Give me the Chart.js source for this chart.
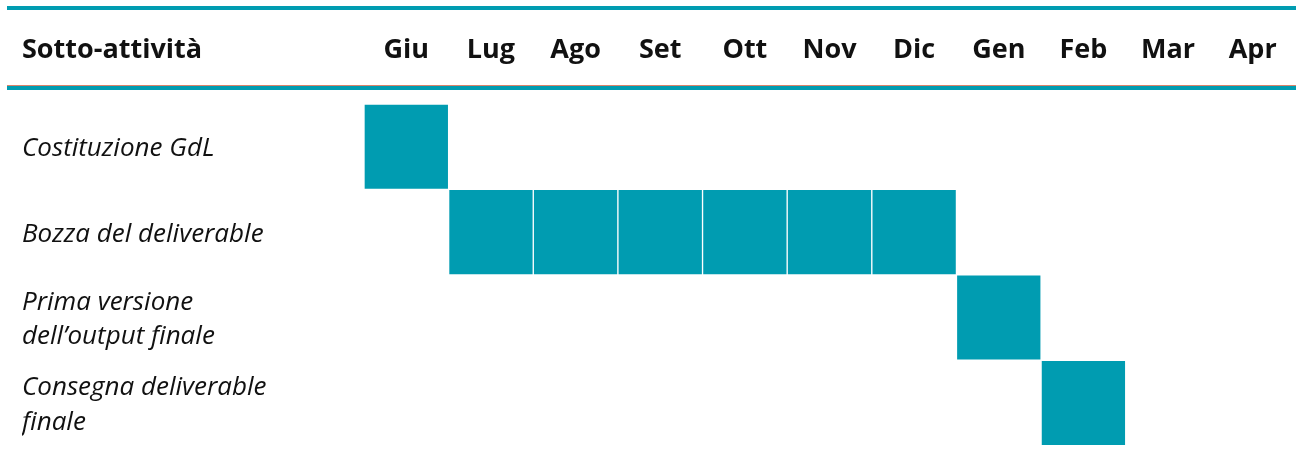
<!DOCTYPE html>
<html>
<head>
<meta charset="utf-8">
<script src="https://cdn.jsdelivr.net/npm/chart.js@4/dist/chart.umd.min.js"></script>
<style>
  html, body { margin: 0; padding: 0; background: #fff; }
  #wrap { width: 1296px; height: 463px; position: relative; }
</style>
</head>
<body>
<div id="wrap"><canvas id="gantt"></canvas></div>
<script>
const headerLabel = 'Sotto-attività';
const months = ['Giu', 'Lug', 'Ago', 'Set', 'Ott', 'Nov', 'Dic', 'Gen', 'Feb', 'Mar', 'Apr'];
// '\n' marks where a label wraps
const tasks = [
  'Costituzione GdL',
  'Bozza del deliverable',
  'Prima versione\ndell’output finale',
  'Consegna deliverable\nfinale'
];
// first month index and number of months for each task
const taskStart = [0, 1, 7, 8];
const taskLength = [1, 6, 1, 1];

const teal = '#009cb1';
const font = '"Open Sans"';

// one cell per task per month
const cells = [];
tasks.forEach((t, i) => {
  for (let k = 0; k < taskLength[i]; k++) {
    const m = taskStart[i] + k;
    cells.push({ x: [m, m + 1], y: t });
  }
});

const headerDeco = {
  id: 'headerDeco',
  afterDraw(chart) {
    const ctx = chart.ctx;
    ctx.save();
    ctx.fillStyle = teal;
    ctx.fillRect(7, 6, 1289, 4);
    ctx.fillStyle = '#d9826a';
    ctx.fillRect(7, 85, 1289, 1);
    ctx.fillStyle = teal;
    ctx.fillRect(7, 86, 1289, 4);
    ctx.fillStyle = '#111';
    ctx.font = 'bold 27px ' + font;
    ctx.textBaseline = 'middle';
    ctx.textAlign = 'left';
    ctx.fillText(headerLabel, 22, 50);
    ctx.restore();
  }
};

new Chart(document.getElementById('gantt'), {
  type: 'bar',
  data: {
    labels: tasks,
    datasets: [{
      data: cells,
      backgroundColor: teal,
      borderColor: '#fff',
      borderWidth: 1,
      borderSkipped: false,
      barPercentage: 1,
      categoryPercentage: 1
    }]
  },
  options: {
    indexAxis: 'y',
    responsive: true,
    maintainAspectRatio: false,
    animation: false,
    layout: { padding: { left: 22, right: 1, top: 0, bottom: 16 } },
    plugins: { legend: { display: false }, tooltip: { enabled: false } },
    scales: {
      x: {
        type: 'linear', min: 0, max: 11, display: false
      },
      months: {
        axis: 'x',
        type: 'category',
        position: 'top',
        labels: months,
        offset: true,
        grid: { display: false, drawTicks: false },
        border: { display: false },
        ticks: {
          color: '#111',
          font: { family: font, size: 27, weight: 'bold' },
          padding: 37,
          maxRotation: 0,
          autoSkip: false
        },
        afterFit(s) {
          s.height = 104;
          s.paddingLeft = 0;
          s.paddingRight = 0;
        }
      },
      y: {
        type: 'category',
        grid: { display: false, drawTicks: false },
        border: { display: false },
        ticks: {
          crossAlign: 'far',
          color: '#111',
          font: { family: font, size: 26, style: 'italic', lineHeight: 1.33 },
          padding: 0,
          labelOffset: 2,
          autoSkip: false,
          callback(v) { return this.getLabelForValue(v).split('\n'); }
        },
        afterFit(s) { s.width = 364 - 22; }
      }
    }
  },
  plugins: [headerDeco]
});
</script>
</body>
</html>
